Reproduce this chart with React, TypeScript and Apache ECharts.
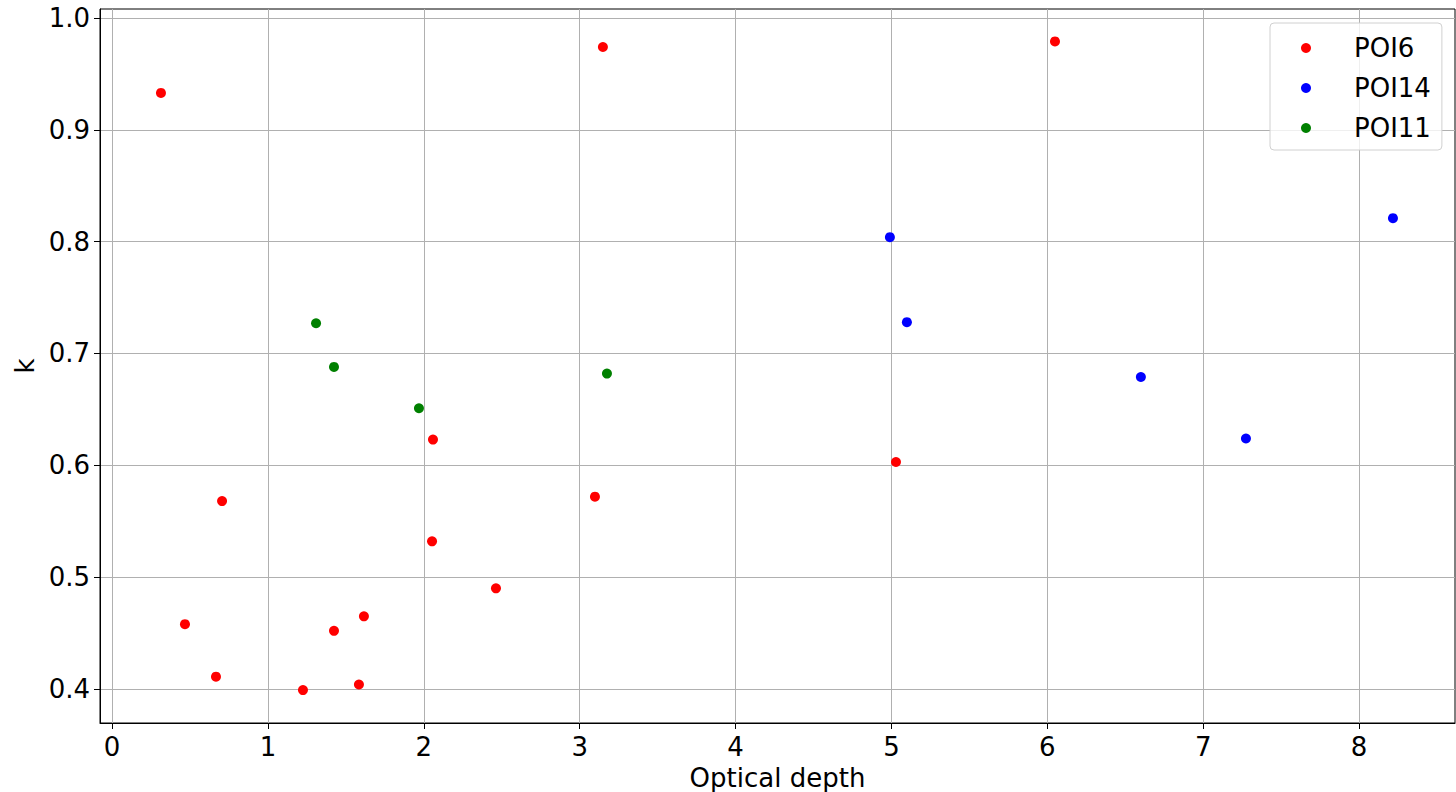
import React, { useEffect, useRef } from "react";
import * as echarts from "echarts";

const poi6X = [0.314, 0.468, 0.667, 0.706, 1.225, 1.424, 1.584, 1.616, 2.053, 2.059, 2.463, 3.098, 3.149, 5.029, 6.049];
const poi6Y = [0.933, 0.458, 0.411, 0.568, 0.399, 0.452, 0.404, 0.465, 0.532, 0.623, 0.490, 0.572, 0.974, 0.603, 0.979];
const poi14X = [4.990, 5.099, 6.600, 7.274, 8.217];
const poi14Y = [0.804, 0.728, 0.679, 0.624, 0.821];
const poi11X = [1.309, 1.424, 1.969, 3.175];
const poi11Y = [0.727, 0.688, 0.651, 0.682];
const xTicks = [0, 1, 2, 3, 4, 5, 6, 7, 8];
const yTicks = [0.4, 0.5, 0.6, 0.7, 0.8, 0.9, 1.0];

const zip = (xs: number[], ys: number[]) => xs.map((x, i) => [x, ys[i]]);

const FONT = "DejaVu Sans";

export default function App() {
  const ref = useRef<HTMLDivElement>(null);
  useEffect(() => {
    if (!ref.current) return;
    const chart = echarts.init(ref.current, null, { renderer: "svg" });
    const axisCommon = {
      axisLine: { show: true, onZero: false, lineStyle: { color: "#000", width: 1 } },
      axisTick: { show: true, inside: false, length: 6, lineStyle: { color: "#000" } },
      splitLine: { show: true, lineStyle: { color: "#b0b0b0", width: 1 } },
      nameTextStyle: { fontFamily: FONT, fontSize: 26, color: "#000" },
    };
    chart.setOption({
      animation: false,
      backgroundColor: "#fff",
      grid: {
        left: 100,
        right: 1,
        top: 9,
        bottom: 69,
        outerBoundsMode: "none",
        containLabel: false,
        show: true,
        borderColor: "#000",
        borderWidth: 1,
        backgroundColor: "transparent",
      },
      xAxis: {
        type: "value",
        min: -0.077,
        max: 8.615,
        name: "Optical depth",
        nameLocation: "middle",
        nameGap: 42,
        ...axisCommon,
        axisTick: { ...axisCommon.axisTick, customValues: xTicks },
        axisLabel: {
          customValues: xTicks,
          fontFamily: FONT,
          fontSize: 26,
          color: "#000",
          margin: 11,
          formatter: (v: number) => String(v),
        },
      },
      yAxis: {
        type: "value",
        min: 0.3696,
        max: 1.008,
        name: "k",
        nameLocation: "middle",
        nameGap: 58,
        nameRotate: 90,
        ...axisCommon,
        axisTick: { ...axisCommon.axisTick, customValues: yTicks },
        axisLabel: {
          customValues: yTicks,
          fontFamily: FONT,
          fontSize: 26,
          color: "#000",
          margin: 10,
          formatter: (v: number) => v.toFixed(1),
        },
      },
      legend: {
        orient: "vertical",
        left: 1270,
        top: 23,
        padding: [11, 11, 8, 31],
        itemWidth: 68,
        itemHeight: 10,
        itemGap: 12,
        backgroundColor: "rgba(255,255,255,0.8)",
        borderColor: "#d0d0d0",
        borderWidth: 1,
        borderRadius: 4,
        textStyle: {
          fontFamily: FONT,
          fontSize: 26,
          color: "#000",
          lineHeight: 28,
          padding: [0, 0, 0, 9],
        },
        data: [
          { name: "POI6", icon: "circle" },
          { name: "POI14", icon: "circle" },
          { name: "POI11", icon: "circle" },
        ],
      },
      series: [
        { name: "POI6", type: "scatter", data: zip(poi6X, poi6Y), symbolSize: 10, itemStyle: { color: "#ff0000", opacity: 1 } },
        { name: "POI14", type: "scatter", data: zip(poi14X, poi14Y), symbolSize: 10, itemStyle: { color: "#0000ff", opacity: 1 } },
        { name: "POI11", type: "scatter", data: zip(poi11X, poi11Y), symbolSize: 10, itemStyle: { color: "#008000", opacity: 1 } },
      ],
    });
    return () => chart.dispose();
  }, []);
  return (
    <div
      ref={ref}
      style={{ position: "fixed", left: 0, top: 0, width: 1456, height: 792 }}
    />
  );
}
